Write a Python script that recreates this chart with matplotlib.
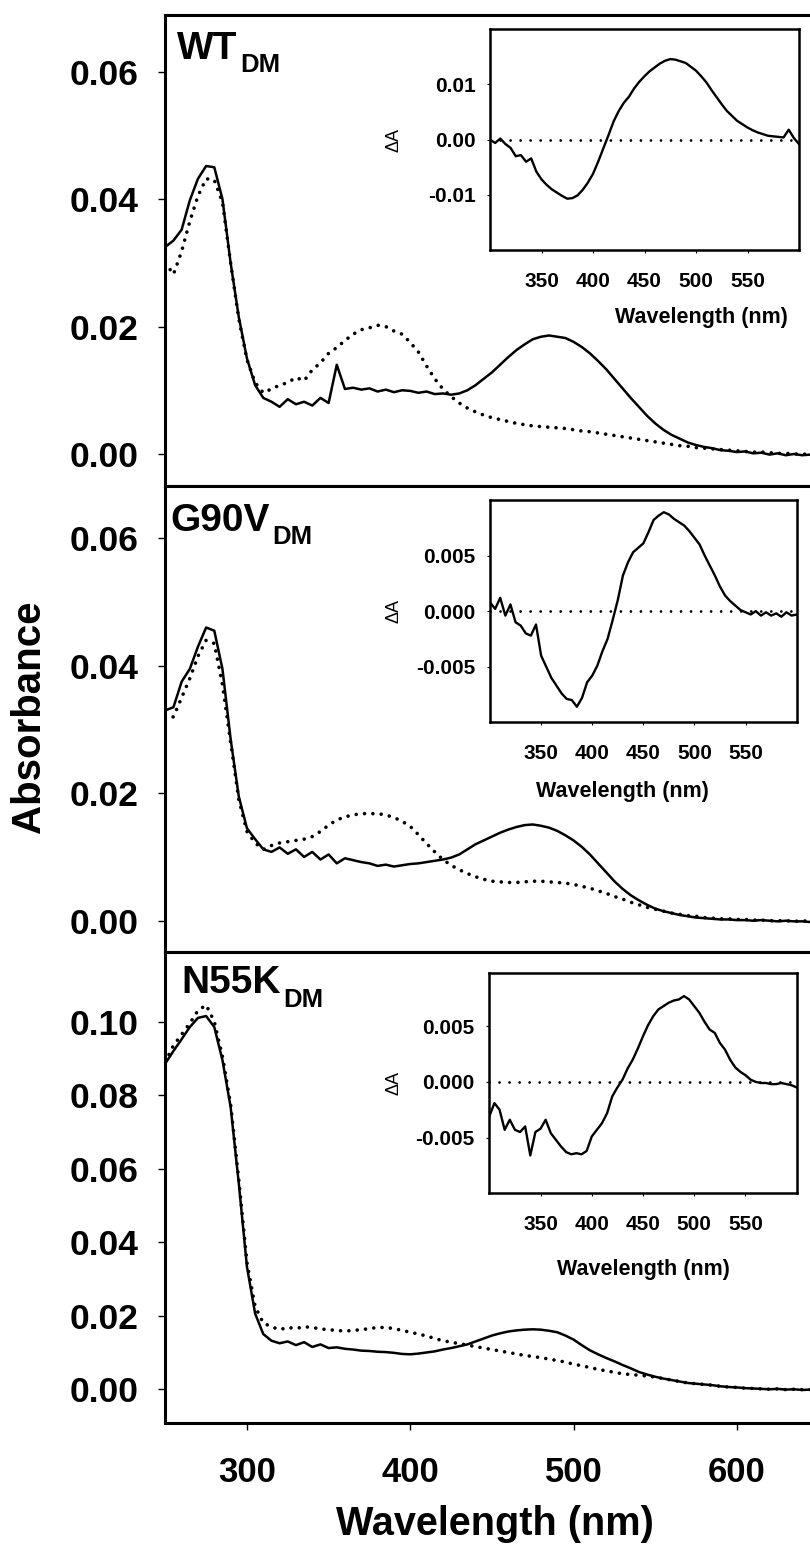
import numpy as np
import matplotlib
matplotlib.use("Agg")
import matplotlib.pyplot as plt

plt.rcParams['font.family'] = ['Liberation Sans', 'DejaVu Sans']
plt.rcParams['font.weight'] = 'bold'

# ---------------- data ----------------
wavelength = np.arange(250, 651, 5)          # main panels, nm
wavelength_inset = np.arange(300, 601, 5)    # difference insets, nm

wt_solid = [0.0325, 0.0335, 0.0352, 0.0398, 0.0432, 0.0452, 0.0450, 0.0400, 0.0300, 0.0215,
            0.0150, 0.0108, 0.0088, 0.0082, 0.0074, 0.0086, 0.0078, 0.0082, 0.0076, 0.0088,
            0.0080, 0.0140, 0.0102, 0.0104, 0.0101, 0.0103, 0.0098, 0.0101, 0.0097, 0.0100,
            0.0099, 0.0096, 0.0098, 0.0094, 0.0095, 0.0093, 0.0095, 0.0100, 0.0108, 0.0118,
            0.0128, 0.0140, 0.0152, 0.0163, 0.0172, 0.0180, 0.0184, 0.0186, 0.0184, 0.0182,
            0.0176, 0.0168, 0.0158, 0.0146, 0.0133, 0.0118, 0.0103, 0.0088, 0.0074, 0.0060,
            0.0048, 0.0038, 0.0030, 0.0024, 0.0018, 0.0014, 0.0011, 0.0009, 0.0006, 0.0005,
            0.0003, 0.0004, 0.0001, 0.0002, -0.0001, 0.0001, -0.0002, 0.0000, -0.0002, -0.0001,
            -0.0003]
wt_dotted = [0.0300, 0.0282, 0.0318, 0.0365, 0.0405, 0.0432, 0.0430, 0.0395, 0.0300, 0.0212,
             0.0148, 0.0112, 0.0096, 0.0102, 0.0108, 0.0112, 0.0120, 0.0115, 0.0132, 0.0143,
             0.0158, 0.0167, 0.0178, 0.0188, 0.0195, 0.0198, 0.0202, 0.0200, 0.0193, 0.0188,
             0.0175, 0.0160, 0.0138, 0.0118, 0.0102, 0.0090, 0.0080, 0.0072, 0.0066, 0.0061,
             0.0057, 0.0054, 0.0051, 0.0048, 0.0046, 0.0044, 0.0043, 0.0042, 0.0041, 0.0040,
             0.0038, 0.0036, 0.0035, 0.0033, 0.0031, 0.0029, 0.0027, 0.0025, 0.0023, 0.0021,
             0.0019, 0.0017, 0.0015, 0.0013, 0.0012, 0.0010, 0.0009, 0.0008, 0.0007, 0.0006,
             0.0005, 0.0004, 0.0003, 0.0003, 0.0002, 0.0001, 0.0001, 0.0000, 0.0000, -0.0001,
             -0.0001]

g90v_solid = [0.0330, 0.0335, 0.0375, 0.0395, 0.0430, 0.0460, 0.0455, 0.0395, 0.0285, 0.0195,
              0.0145, 0.0128, 0.0112, 0.0108, 0.0115, 0.0105, 0.0112, 0.0100, 0.0108, 0.0096,
              0.0104, 0.0090, 0.0098, 0.0095, 0.0092, 0.0090, 0.0086, 0.0088, 0.0085, 0.0087,
              0.0089, 0.0090, 0.0092, 0.0094, 0.0096, 0.0099, 0.0104, 0.0112, 0.0120, 0.0126,
              0.0132, 0.0138, 0.0143, 0.0147, 0.0150, 0.0151, 0.0149, 0.0146, 0.0141, 0.0134,
              0.0126, 0.0116, 0.0104, 0.0090, 0.0076, 0.0062, 0.0050, 0.0040, 0.0032, 0.0025,
              0.0019, 0.0015, 0.0012, 0.0009, 0.0007, 0.0005, 0.0004, 0.0003, 0.0002, 0.0002,
              0.0001, 0.0001, 0.0000, 0.0001, 0.0000, -0.0001, 0.0000, -0.0001, -0.0001, -0.0002,
              -0.0001]
g90v_dotted = [0.0315, 0.0320, 0.0350, 0.0380, 0.0415, 0.0440, 0.0435, 0.0370, 0.0280, 0.0190,
               0.0140, 0.0122, 0.0112, 0.0118, 0.0122, 0.0124, 0.0126, 0.0128, 0.0132, 0.0140,
               0.0150, 0.0158, 0.0163, 0.0166, 0.0168, 0.0168, 0.0168, 0.0166, 0.0162, 0.0156,
               0.0148, 0.0135, 0.0121, 0.0108, 0.0096, 0.0087, 0.0080, 0.0074, 0.0069, 0.0065,
               0.0062, 0.0061, 0.0060, 0.0060, 0.0061, 0.0062, 0.0062, 0.0061, 0.0060, 0.0059,
               0.0057, 0.0054, 0.0051, 0.0047, 0.0043, 0.0038, 0.0034, 0.0029, 0.0025, 0.0021,
               0.0018, 0.0015, 0.0012, 0.0010, 0.0008, 0.0007, 0.0005, 0.0004, 0.0003, 0.0003,
               0.0002, 0.0002, 0.0001, 0.0001, 0.0000, 0.0000, 0.0000, -0.0001, 0.0000, -0.0001,
               -0.0001]

n55k_solid = [0.0886, 0.0920, 0.0952, 0.0985, 0.1010, 0.1015, 0.0985, 0.0895, 0.0768, 0.0560,
              0.0333, 0.0206, 0.0150, 0.0132, 0.0125, 0.0130, 0.0120, 0.0128, 0.0115, 0.0122,
              0.0112, 0.0114, 0.0110, 0.0108, 0.0105, 0.0104, 0.0102, 0.0101, 0.0099, 0.0096,
              0.0095, 0.0097, 0.0100, 0.0103, 0.0108, 0.0112, 0.0117, 0.0122, 0.0130, 0.0138,
              0.0146, 0.0152, 0.0157, 0.0160, 0.0162, 0.0163, 0.0162, 0.0159, 0.0155, 0.0146,
              0.0135, 0.0120, 0.0106, 0.0095, 0.0085, 0.0076, 0.0066, 0.0057, 0.0047, 0.0040,
              0.0034, 0.0029, 0.0025, 0.0021, 0.0017, 0.0015, 0.0013, 0.0011, 0.0008, 0.0006,
              0.0005, 0.0003, 0.0002, 0.0001, 0.0000, 0.0001, -0.0001, 0.0000, -0.0002, -0.0001,
              -0.0002]
n55k_dotted = [0.0890, 0.0935, 0.0965, 0.0995, 0.1030, 0.1045, 0.1000, 0.0905, 0.0775, 0.0570,
               0.0345, 0.0225, 0.0180, 0.0170, 0.0162, 0.0168, 0.0165, 0.0170, 0.0168, 0.0164,
               0.0162, 0.0160, 0.0158, 0.0160, 0.0162, 0.0165, 0.0168, 0.0168, 0.0165, 0.0160,
               0.0155, 0.0150, 0.0145, 0.0138, 0.0132, 0.0128, 0.0124, 0.0120, 0.0116, 0.0112,
               0.0108, 0.0104, 0.0100, 0.0096, 0.0092, 0.0089, 0.0086, 0.0082, 0.0078, 0.0074,
               0.0068, 0.0064, 0.0059, 0.0054, 0.0050, 0.0046, 0.0042, 0.0040, 0.0038, 0.0036,
               0.0033, 0.0029, 0.0025, 0.0021, 0.0017, 0.0015, 0.0013, 0.0011, 0.0008, 0.0006,
               0.0005, 0.0003, 0.0002, 0.0001, 0.0000, 0.0001, -0.0001, 0.0000, -0.0001, -0.0001,
               -0.0002]

wt_diff = [0.0000, -0.0006, 0.0002, -0.0008, -0.0015, -0.0030, -0.0028, -0.0040, -0.0034, -0.0058,
           -0.0072, -0.0082, -0.0090, -0.0096, -0.0102, -0.0107, -0.0106, -0.0101, -0.0091, -0.0078,
           -0.0062, -0.0040, -0.0016, 0.0008, 0.0033, 0.0052, 0.0067, 0.0078, 0.0093, 0.0105,
           0.0115, 0.0124, 0.0131, 0.0138, 0.0143, 0.0146, 0.0145, 0.0142, 0.0139, 0.0132,
           0.0125, 0.0115, 0.0104, 0.0090, 0.0077, 0.0064, 0.0052, 0.0043, 0.0034, 0.0028,
           0.0022, 0.0017, 0.0013, 0.0010, 0.0007, 0.0006, 0.0005, 0.0004, 0.0018, 0.0003,
           -0.0008]
g90v_diff = [0.0008, 0.0002, 0.0012, -0.0004, 0.0006, -0.0010, -0.0013, -0.0020, -0.0022, -0.0012,
             -0.0040, -0.0050, -0.0060, -0.0067, -0.0074, -0.0079, -0.0080, -0.0086, -0.0078, -0.0064,
             -0.0058, -0.0049, -0.0036, -0.0025, -0.0008, 0.0010, 0.0032, 0.0044, 0.0053, 0.0057,
             0.0061, 0.0071, 0.0082, 0.0086, 0.0089, 0.0087, 0.0083, 0.0080, 0.0077, 0.0072,
             0.0066, 0.0060, 0.0050, 0.0041, 0.0032, 0.0022, 0.0014, 0.0009, 0.0005, 0.0001,
             -0.0001, -0.0003, 0.0000, -0.0004, -0.0001, -0.0004, -0.0002, -0.0005, -0.0001, -0.0004,
             -0.0003]
n55k_diff = [-0.0031, -0.0019, -0.0025, -0.0043, -0.0034, -0.0043, -0.0045, -0.0040, -0.0066, -0.0045,
             -0.0042, -0.0034, -0.0046, -0.0052, -0.0058, -0.0063, -0.0065, -0.0064, -0.0065, -0.0062,
             -0.0049, -0.0043, -0.0037, -0.0028, -0.0013, -0.0005, 0.0002, 0.0012, 0.0020, 0.0030,
             0.0041, 0.0051, 0.0059, 0.0065, 0.0068, 0.0071, 0.0073, 0.0074, 0.0077, 0.0074,
             0.0068, 0.0062, 0.0054, 0.0047, 0.0044, 0.0035, 0.0029, 0.0020, 0.0013, 0.0009,
             0.0006, 0.0002, 0.0000, -0.0001, -0.0001, -0.0002, -0.0002, -0.0001, -0.0002, -0.0003,
             -0.0005]

panel_names = ['WT', 'G90V', 'N55K']
panel_subscript = 'DM'
main_yticks = [[0.00, 0.02, 0.04, 0.06], [0.00, 0.02, 0.04, 0.06],
               [0.00, 0.02, 0.04, 0.06, 0.08, 0.10]]
main_xticks = [300, 400, 500, 600]
inset_xticks = [350, 400, 450, 500, 550]
inset_yticks = [[-0.01, 0.00, 0.01], [-0.005, 0.000, 0.005], [-0.005, 0.000, 0.005]]
inset_ytick_labels = [['-0.01', '0.00', '0.01'], ['-0.005', '0.000', '0.005'],
                      ['-0.005', '0.000', '0.005']]

solids = [wt_solid, g90v_solid, n55k_solid]
dotteds = [wt_dotted, g90v_dotted, n55k_dotted]
diffs = [wt_diff, g90v_diff, n55k_diff]

# ---------------- layout (pixels) ----------------
W, H = 810, 1544
fig = plt.figure(figsize=(W / 100, H / 100), dpi=100)

def fx(px):
    return px / W

def fy(py):
    return 1 - py / H

left_px, right_px = 165.3, 818.5
panel_px = [(15, 485.7), (485.7, 951.7), (951.7, 1422.7)]
panel_ylim = [(-0.00498, 0.0689), (-0.00486, 0.06825), (-0.0091, 0.119)]
inset_px = [(490, 29.3, 799, 250), (490, 500, 796.7, 722.3), (489.3, 972.7, 796.7, 1193.3)]
inset_ylim = [(-0.02, 0.02), (-0.01, 0.01), (-0.01, 0.0098)]
name_pos = [(177, 59), (170.7, 530.7), (181.7, 992.7)]
sub_base = [72, 544, 1007]
da_pos = [(394, 140), (394, 611), (394, 1083)]
inset_xlabel_pos = [(701.7, 323), (622, 796.7), (643, 1275)]

main_lw = 2.2
for i in range(3):
    top, bot = panel_px[i]
    ax = fig.add_axes([fx(left_px), fy(bot), (right_px - left_px) / W, (bot - top) / H])
    ax.plot(wavelength, dotteds[i], color='black', lw=2.6, linestyle=(0, (0.01, 2.3)),
            dash_capstyle='round', zorder=2)
    ax.plot(wavelength, solids[i], color='black', lw=1.8, zorder=3)
    ax.set_xlim(250, 650)
    ax.set_ylim(*panel_ylim[i])
    ax.set_yticks(main_yticks[i])
    ax.set_yticklabels(['%.2f' % v for v in main_yticks[i]])
    ax.tick_params(axis='y', direction='out', length=5, width=1.0, labelsize=25.5, pad=14)
    for s in ax.spines.values():
        s.set_linewidth(main_lw)
    if i < 2:
        ax.tick_params(axis='x', bottom=False, labelbottom=False)
    else:
        ax.set_xticks(main_xticks)
        ax.set_xticklabels([str(v) for v in main_xticks])
        ax.tick_params(axis='x', direction='out', length=5, width=1.0, labelsize=25, pad=19)

    # panel name with subscript
    nx, ny = name_pos[i]
    t = fig.text(fx(nx), fy(ny), panel_names[i], fontsize=28, fontweight='bold',
                 ha='left', va='baseline')
    fig.canvas.draw()
    ext = t.get_window_extent()
    fig.text(fx(ext.x1 + 2.5), fy(sub_base[i]), panel_subscript, fontsize=18.5,
             fontweight='bold', ha='left', va='baseline')

    # inset
    il, it, ir, ib = inset_px[i]
    ins = fig.add_axes([fx(il), fy(ib), (ir - il) / W, (ib - it) / H])
    ins.set_facecolor('white')
    ins.plot([300, 600], [0, 0], color='black', lw=2.0, linestyle=(0, (0.01, 3.6)),
             dash_capstyle='round', zorder=2)
    ins.plot(wavelength_inset, diffs[i], color='black', lw=1.7, zorder=3)
    ins.set_xlim(300, 600)
    ins.set_ylim(*inset_ylim[i])
    ins.set_xticks(inset_xticks)
    ins.set_xticklabels([str(v) for v in inset_xticks])
    ins.set_yticks(inset_yticks[i])
    ins.set_yticklabels(inset_ytick_labels[i])
    ins.tick_params(axis='both', direction='out', length=2.5, width=0.8, labelsize=15)
    ins.tick_params(axis='y', pad=8)
    ins.tick_params(axis='x', pad=13)
    for s in ins.spines.values():
        s.set_linewidth(1.8)
    dx, dy = da_pos[i]
    fig.text(fx(dx), fy(dy), '\u0394A', fontsize=13, fontweight='normal', rotation=90,
             ha='center', va='center')
    lx, ly = inset_xlabel_pos[i]
    fig.text(fx(lx), fy(ly), 'Wavelength (nm)', fontsize=15.5, fontweight='bold',
             ha='center', va='baseline')

fig.text(fx(29), fy(717), 'Absorbance', fontsize=29, fontweight='bold', rotation=90,
         ha='center', va='center')
fig.text(fx(494.5), fy(1535), 'Wavelength (nm)', fontsize=28.5, fontweight='bold',
         ha='center', va='baseline')

fig.savefig('out.png', dpi=100)
